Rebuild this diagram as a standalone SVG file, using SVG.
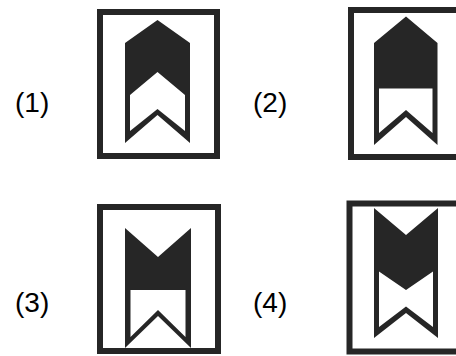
<svg xmlns="http://www.w3.org/2000/svg" width="456" height="356" viewBox="0 0 456 356">
<style>
.frame{fill:none;stroke:#262626;stroke-width:6}
.ink{fill:#262626}
.hole{fill:#ffffff}
.lbl{font-family:"Liberation Sans",Arial,sans-serif;font-size:28px;fill:#000}
</style>
<rect width="456" height="356" fill="#ffffff"/>
<g id="panel1">
<text class="lbl" x="15" y="112">(1)</text>
<rect class="frame" x="100" y="12" width="117" height="144"/>
<polygon class="ink" points="157.5,20 190,43 190,143 157.5,115 125,143 125,43"/>
<polygon class="hole" points="130,95 157.5,72 185,95 185,131 157.5,109 130,131"/>
</g>
<g id="panel2">
<text class="lbl" x="253" y="112">(2)</text>
<rect class="frame" x="351" y="10" width="117" height="147"/>
<polygon class="ink" points="406,16.5 437.5,43 437.5,145 406,117 374,145 374,43"/>
<polygon class="hole" points="379,88.5 432.5,88.5 432.5,133 406,110 379,133"/>
</g>
<g id="panel3">
<text class="lbl" x="15" y="312">(3)</text>
<rect class="frame" x="100" y="207" width="118" height="144"/>
<polygon class="ink" points="125,228 158,257 191,228 191,348 158,316 125,348"/>
<polygon class="hole" points="130.5,290 185.5,290 185.5,337 158,310 130.5,337"/>
</g>
<g id="panel4">
<text class="lbl" x="253" y="312">(4)</text>
<rect class="frame" x="349.5" y="203.5" width="117" height="148"/>
<polygon class="ink" points="374,208 406,235 438,208 438,338 406,313 374,338"/>
<polygon class="hole" points="379,271.5 406,290 433,271.5 433,327 406,306.5 379,327"/>
</g>
</svg>
